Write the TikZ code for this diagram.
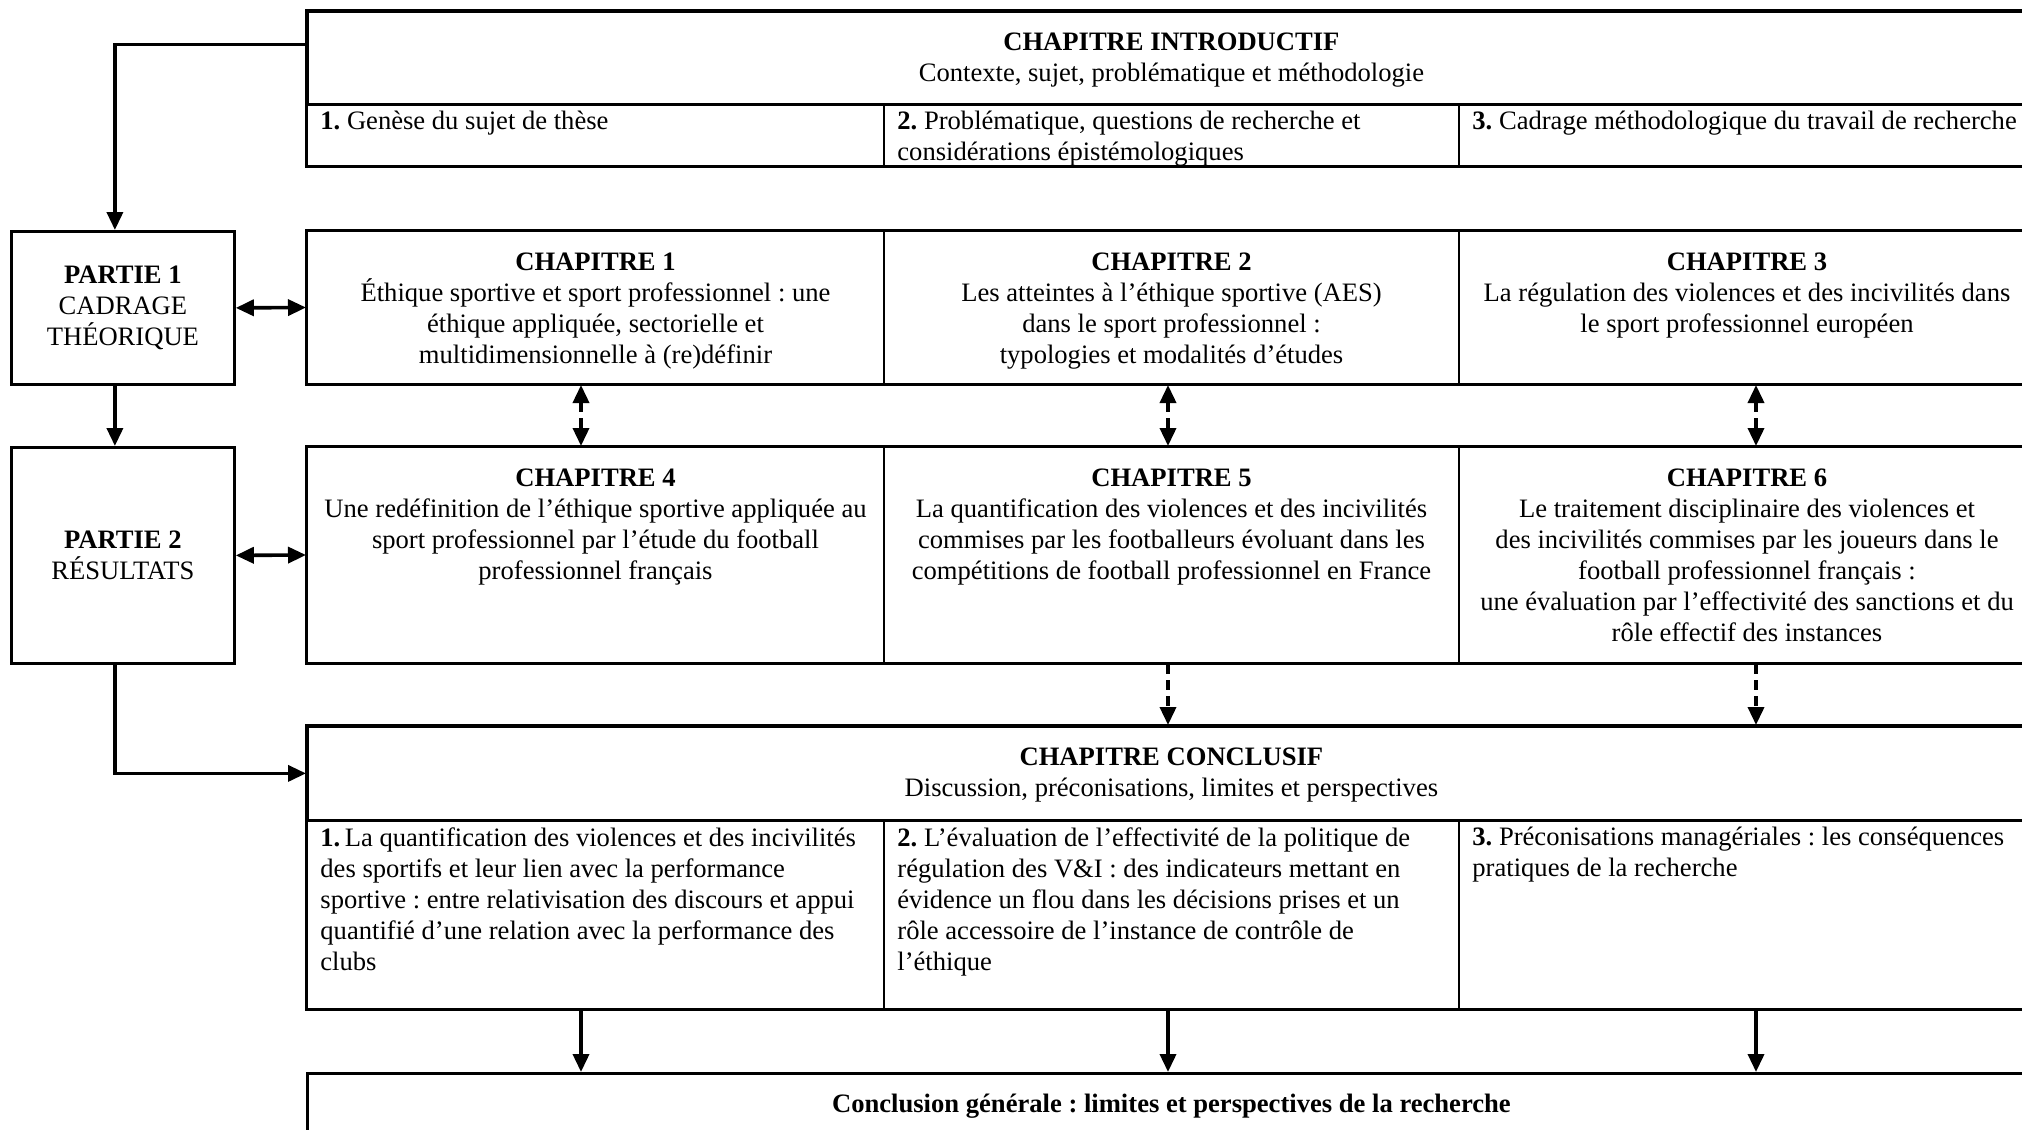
\documentclass[tikz,border=0pt]{standalone}
\usepackage{fontspec}
\setmainfont{Liberation Serif}
\usetikzlibrary{arrows.meta}
\usetikzlibrary{positioning}
\frenchspacing

\tikzset{
  cadre/.style={draw, line width=1.4pt, inner sep=0pt, anchor=north west},
  case/.style={draw, line width=1pt, inner sep=0pt, anchor=north west},
  texte/.style={inner sep=0pt, align=center, font=\fontsize{13.3}{15.5}\selectfont},
  fleche/.style={line width=1.8pt, ->},
  pointille/.style={line width=1.8pt, dash pattern=on 5pt off 3pt},
}

\begin{document}
\begin{tikzpicture}[line join=miter, x=0.5pt, y=-0.5pt, >={Triangle[length=9pt, width=8pt]}]
\useasboundingbox (0,0) rectangle (2022,1129);
\clip (0,0) rectangle (2022,1129);

% chapitre introductif
\node[cadre, minimum width=864pt, minimum height=46.5pt] (intro) at (306,10) {};
\node[case, minimum width=288.5pt, minimum height=31pt] (intro1) at (306,103) {};
\node[case, minimum width=287.5pt, minimum height=31pt] (intro2) at (883,103) {};
\node[case, minimum width=288pt, minimum height=31pt] (intro3) at (1458,103) {};
\draw[line width=1.4pt] (intro.north west) rectangle (intro3.south east);
\node[texte, below=11pt of intro.north] (tintro) {\textbf{CHAPITRE INTRODUCTIF}\\Contexte, sujet, problématique et méthodologie};
\node[texte, align=left, below right=4pt and 7pt of intro1.north west] (tintro1) {\textbf{1.} Genèse du sujet de thèse};
\node[texte, align=left, below right=4pt and 7pt of intro2.north west] (tintro2) {\textbf{2.} Problématique, questions de recherche et\\considérations épistémologiques};
\node[texte, align=left, below right=4pt and 7pt of intro3.north west] (tintro3) {\textbf{3.} Cadrage méthodologique du travail de recherche};

% parties
\node[cadre, minimum width=111.5pt, minimum height=76.5pt] (partie1) at (10,230) {};
\node[cadre, minimum width=111.5pt, minimum height=108pt] (partie2) at (10,446) {};
\node[texte] (tpartie1) at (partie1.center) {\textbf{PARTIE 1}\\CADRAGE\\THÉORIQUE};
\node[texte] (tpartie2) at (partie2.center) {\textbf{PARTIE 2}\\RÉSULTATS};

% chapitres 1 a 3
\node[case, minimum width=288.5pt, minimum height=76.5pt] (chap1) at (306,230) {};
\node[case, minimum width=287.5pt, minimum height=76.5pt] (chap2) at (883,230) {};
\node[case, minimum width=288pt, minimum height=76.5pt] (chap3) at (1458,230) {};
\draw[line width=1.4pt] (chap1.north west) rectangle (chap3.south east);
\node[texte, below=11pt of chap1.north] (tchap1) {\textbf{CHAPITRE 1}\\Éthique sportive et sport professionnel : une\\éthique appliquée, sectorielle et\\multidimensionnelle à (re)définir};
\node[texte, below=11pt of chap2.north] (tchap2) {\textbf{CHAPITRE 2}\\Les atteintes à l’éthique sportive (AES)\\dans le sport professionnel :\\typologies et modalités d’études};
\node[texte, below=11pt of chap3.north] (tchap3) {\textbf{CHAPITRE 3}\\La régulation des violences et des incivilités dans\\le sport professionnel européen};

% chapitres 4 a 6
\node[case, minimum width=288.5pt, minimum height=108pt] (chap4) at (306,446) {};
\node[case, minimum width=287.5pt, minimum height=108pt] (chap5) at (883,446) {};
\node[case, minimum width=288pt, minimum height=108pt] (chap6) at (1458,446) {};
\draw[line width=1.4pt] (chap4.north west) rectangle (chap6.south east);
\node[texte, below=11pt of chap4.north] (tchap4) {\textbf{CHAPITRE 4}\\Une redéfinition de l’éthique sportive appliquée au\\sport professionnel par l’étude du football\\professionnel français};
\node[texte, below=11pt of chap5.north] (tchap5) {\textbf{CHAPITRE 5}\\La quantification des violences et des incivilités\\commises par les footballeurs évoluant dans les\\compétitions de football professionnel en France};
\node[texte, below=11pt of chap6.north] (tchap6) {\textbf{CHAPITRE 6}\\Le traitement disciplinaire des violences et\\des incivilités commises par les joueurs dans le\\football professionnel français :\\une évaluation par l’effectivité des sanctions et du\\rôle effectif des instances};

% chapitre conclusif
\node[cadre, minimum width=864pt, minimum height=47pt] (concl) at (306,725) {};
\node[case, minimum width=288.5pt, minimum height=94.5pt] (concl1) at (306,819) {};
\node[case, minimum width=287.5pt, minimum height=94.5pt] (concl2) at (883,819) {};
\node[case, minimum width=288pt, minimum height=94.5pt] (concl3) at (1458,819) {};
\draw[line width=1.4pt] (concl.north west) rectangle (concl3.south east);
\node[texte, below=11pt of concl.north] (tconcl) {\textbf{CHAPITRE CONCLUSIF}\\Discussion, préconisations, limites et perspectives};
\node[texte, align=left, below right=4pt and 7pt of concl1.north west] (tconcl1) {\textbf{1.}\,La quantification des violences et des incivilités\\des sportifs et leur lien avec la performance\\sportive : entre relativisation des discours et appui\\quantifié d’une relation avec la performance des\\clubs};
\node[texte, align=left, below right=4pt and 7pt of concl2.north west] (tconcl2) {\textbf{2.} L’évaluation de l’effectivité de la politique de\\régulation des V\&I : des indicateurs mettant en\\évidence un flou dans les décisions prises et un\\rôle accessoire de l’instance de contrôle de\\l’éthique};
\node[texte, align=left, below right=4pt and 7pt of concl3.north west] (tconcl3) {\textbf{3.} Préconisations managériales : les conséquences\\pratiques de la recherche};

% conclusion generale
\node[cadre, minimum width=864pt, minimum height=60pt] (gen) at (306,1072) {};
\node[texte, below=11pt of gen.north] (tgen) {\textbf{Conclusion générale : limites et perspectives de la recherche}};

% fleches
\draw[fleche] ([yshift=6.75pt]intro.west) -| ([xshift=-4pt]partie1.north);
\draw[fleche] ([xshift=-4pt]partie1.south) -- ([xshift=-4pt]partie2.north);
\draw[fleche] ([xshift=-4pt]partie2.south) |- (concl.west);
\draw[fleche, <->] (partie1.east) -- (chap1.west);
\draw[fleche, <->] (partie2.east) -- (chap4.west);
\draw[pointille, <->] ([xshift=-7.25pt]chap1.south) -- ([xshift=-7.25pt]chap4.north);
\draw[pointille, <->] ([xshift=-1.75pt]chap2.south) -- ([xshift=-1.75pt]chap5.north);
\draw[pointille, <->] ([xshift=4.5pt]chap3.south) -- ([xshift=4.5pt]chap6.north);
\draw[pointille, ->] ([xshift=-1.75pt]chap5.south) -- ([xshift=-1.75pt]chap5.south |- concl.north);
\draw[pointille, ->] ([xshift=4.5pt]chap6.south) -- ([xshift=4.5pt]chap6.south |- concl.north);
\draw[fleche] ([xshift=-7.25pt]concl1.south) -- ([xshift=-7.25pt]concl1.south |- gen.north);
\draw[fleche] ([xshift=-1.75pt]concl2.south) -- ([xshift=-1.75pt]concl2.south |- gen.north);
\draw[fleche] ([xshift=4.5pt]concl3.south) -- ([xshift=4.5pt]concl3.south |- gen.north);
\end{tikzpicture}
\end{document}
